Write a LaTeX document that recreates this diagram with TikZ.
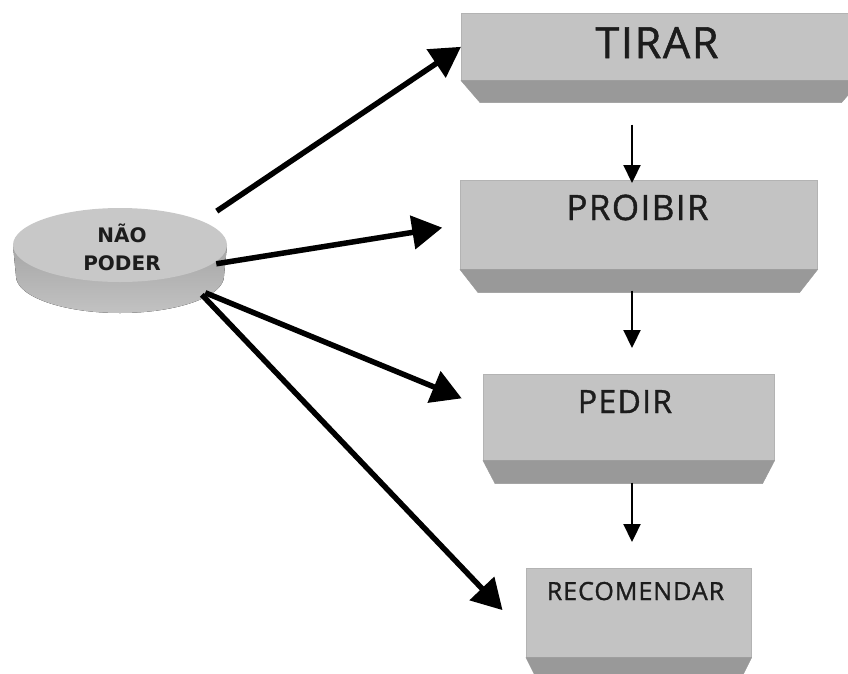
\documentclass[tikz,border=0pt]{standalone}
\usepackage{fontspec}
\setmainfont{Liberation Sans}
\newfontfamily\boxfont[LetterSpace=4,FakeBold=1.2]{Open Sans}
\newfontfamily\discfont{DejaVu Sans}
\usetikzlibrary{arrows.meta,shapes.geometric,calc}
\definecolor{face}{HTML}{C3C3C3}
\definecolor{bevelc}{HTML}{999999}
\definecolor{ink}{HTML}{1C1C1C}
\definecolor{disctop}{HTML}{C8C8C8}
\definecolor{sidetop}{HTML}{A6A6A6}
\definecolor{sidebot}{HTML}{C2C2C2}
\tikzset{
  boxface/.style={rectangle, anchor=north west, inner sep=0pt, fill=face, draw=face!92!black, line width=0.6pt},
  bevelfill/.style={fill=bevelc, draw=bevelc, line width=0.4pt},
  boxtext/.style={anchor=base, inner sep=0pt, text=ink},
  disctext/.style={anchor=base, inner sep=0pt, text=ink, font=\discfont\bfseries\fontsize{20}{20}\selectfont},
  bigarrow/.style={line width=5.5pt, -{Triangle[length=30pt,width=33pt]}},
  smallarrow/.style={line width=2.2pt, -{Triangle[length=18pt,width=17pt]}},
}
\begin{document}
\begin{tikzpicture}[x=1pt,y=1pt]
\useasboundingbox (0,0) rectangle (848,-673);
% disc
\fill[top color=sidetop, bottom color=sidebot] (13,-245) -- (16,-276) arc[start angle=180, end angle=360, x radius=104, y radius=37] -- (227,-245) -- cycle;
\fill[disctop] (120,-245) ellipse [x radius=107, y radius=37];
\node[ellipse, minimum width=216pt, minimum height=106pt, inner sep=0pt] (np) at (120,-260) {};
\node[disctext] (nao) at (122,-242) {NÃO};
\node[disctext] (poder) at (122,-270) {PODER};
% boxes
\node[boxface, minimum width=399pt, minimum height=67pt] (tirar) at (461,-13) {};
\fill[bevelfill] (tirar.south west) -- (tirar.south east) -- ++(-19,-22) -- ($(tirar.south west)+(19,-22)$) -- cycle;
\node[boxtext, font=\boxfont\fontsize{43}{43}\selectfont] (ttirar) at (657,-58) {TIRAR};

\node[boxface, minimum width=357pt, minimum height=89pt] (proibir) at (460,-180) {};
\fill[bevelfill] (proibir.south west) -- (proibir.south east) -- ++(-18,-23) -- ($(proibir.south west)+(18,-23)$) -- cycle;
\node[boxtext, font=\boxfont\fontsize{35}{35}\selectfont] (tproibir) at (637.5,-220) {PROIBIR};

\node[boxface, minimum width=291pt, minimum height=86pt] (pedir) at (483,-374) {};
\fill[bevelfill] (pedir.south west) -- (pedir.south east) -- ++(-12,-23) -- ($(pedir.south west)+(12,-23)$) -- cycle;
\node[boxtext, font=\boxfont\fontsize{32}{32}\selectfont] (tpedir) at (625,-413) {PEDIR};

\node[boxface, minimum width=225pt, minimum height=89pt] (rec) at (526,-568) {};
\fill[bevelfill] (rec.south west) -- (rec.south east) -- ++(-12,-24) -- ($(rec.south west)+(12,-24)$) -- cycle;
\node[boxtext, font=\boxfont\fontsize{25}{25}\selectfont] (trec) at (635.5,-600) {RECOMENDAR};

% thick arrows
\draw[bigarrow, shorten <=22pt] (np.25) -- (tirar.west);
\draw[bigarrow, shorten <=-12pt, shorten >=18pt] (np.-1) -- (proibir.west);
\draw[bigarrow, shorten >=23pt] (np.-21) -- (pedir.176);
\draw[bigarrow, shorten >=34pt] (np.-23) -- (rec.191);

% thin arrows
\draw[smallarrow] ([shift={(171,-44)}]tirar.south west) -- ([shift={(172,-3)}]proibir.north west);
\draw[smallarrow] ([shift={(172,-21)}]proibir.south west) -- ([shift={(149,26)}]pedir.north west);
\draw[smallarrow] ([shift={(149,-22)}]pedir.south west) -- ([shift={(106,26)}]rec.north west);
\end{tikzpicture}
\end{document}
